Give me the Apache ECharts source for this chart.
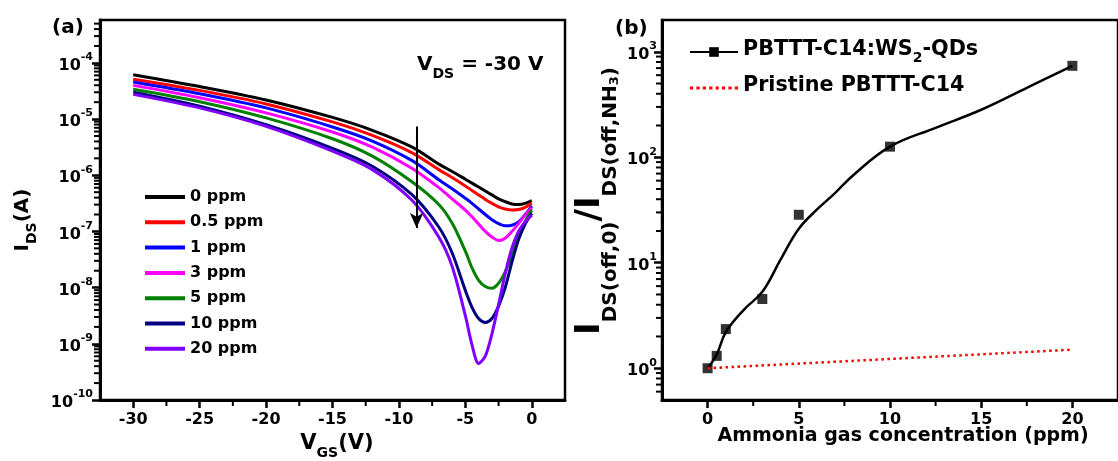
<!DOCTYPE html>
<html><head><meta charset="utf-8">
<script src="https://cdn.jsdelivr.net/npm/echarts@6/dist/echarts.min.js"></script>
<style>html,body{margin:0;padding:0;background:#fff}#c{width:1118px;height:461px}</style>
</head><body><div id="c"></div>
<script>
// ---------- Panel (a) data ----------
const vgs = [-30,-25,-20,-15,-12,-9,-7,-6,-5,-4.5,-4,-3.5,-3,-2.5,-2,-1.5,-1,-0.5,0];
const seriesNamesA = ['0 ppm','0.5 ppm','1 ppm','3 ppm','5 ppm','10 ppm','20 ppm'];
const colorsA = ['#000000','#ff0000','#0000ff','#ff00ff','#008000','#000080','#7f00ff'];
const ids0 = [6.17e-5,3.80e-5,2.19e-5,1.07e-5,6.31e-6,3.16e-6,1.58e-6,1.17e-6,8.51e-7,7.24e-7,6.17e-7,5.25e-7,4.47e-7,3.80e-7,3.39e-7,3.09e-7,3.02e-7,3.16e-7,3.55e-7];
const ids05 = [5.13e-5,3.24e-5,1.86e-5,8.91e-6,5.13e-6,2.51e-6,1.26e-6,9.12e-7,6.46e-7,5.37e-7,4.47e-7,3.72e-7,3.16e-7,2.75e-7,2.51e-7,2.40e-7,2.45e-7,2.69e-7,3.16e-7];
const ids1 = [4.57e-5,2.82e-5,1.58e-5,7.24e-6,4.07e-6,1.82e-6,8.32e-7,5.75e-7,3.89e-7,3.16e-7,2.51e-7,2.00e-7,1.62e-7,1.38e-7,1.26e-7,1.29e-7,1.48e-7,2.00e-7,2.82e-7];
const ids3 = [3.98e-5,2.40e-5,1.29e-5,5.89e-6,3.16e-6,1.32e-6,6.03e-7,3.80e-7,2.40e-7,1.82e-7,1.35e-7,1.00e-7,7.94e-8,6.92e-8,7.59e-8,1.00e-7,1.38e-7,1.95e-7,2.63e-7];
const ids5 = [3.39e-5,2.04e-5,1.05e-5,4.47e-6,2.19e-6,7.59e-7,3.02e-7,1.41e-7,4.47e-8,2.24e-8,1.35e-8,1.05e-8,9.77e-9,1.20e-8,1.91e-8,3.80e-8,8.32e-8,1.51e-7,2.40e-7];
const ids10 = [3.02e-5,1.70e-5,7.94e-6,3.02e-6,1.45e-6,4.47e-7,1.20e-7,4.17e-8,8.91e-9,4.47e-9,2.82e-9,2.40e-9,2.82e-9,4.68e-9,1.00e-8,2.82e-8,7.08e-8,1.35e-7,2.09e-7];
const ids20 = [2.75e-5,1.58e-5,7.41e-6,2.69e-6,1.26e-6,3.55e-7,7.94e-8,2.40e-8,3.16e-9,9.55e-10,4.47e-10,6.03e-10,1.51e-9,5.01e-9,1.78e-8,5.01e-8,1.00e-7,1.48e-7,1.95e-7];
const currentsA = [ids0, ids05, ids1, ids3, ids5, ids10, ids20];
const xTicksA = [-30,-25,-20,-15,-10,-5,0];
const xMinorA = [-27.5,-22.5,-17.5,-12.5,-7.5,-2.5];
const yDecadesA = [1e-10,1e-9,1e-8,1e-7,1e-6,1e-5,1e-4];
const arrowVgs = -8.67, arrowFrom = 7.35e-6, arrowTo = 1.15e-7;

// ---------- Panel (b) data ----------
const conc = [0, 0.5, 1, 3, 5, 10, 20];
const ratio = [1.0, 1.31, 2.35, 4.53, 28.5, 126, 736];
const fitConc = [0, 0.5, 1, 2, 3, 4, 5, 6, 7, 8, 10, 12.5, 15, 17.5, 20];
const fitRatio = [1.0, 1.35, 2.2, 3.6, 5.3, 10.7, 21, 32, 46, 68, 126, 190, 282, 455, 736];
const pristineConc = [0, 20];
const pristineRatio = [1.0, 1.5];
const xTicksB = [0, 5, 10, 15, 20];
const xMinorB = [2.5, 7.5, 12.5, 17.5];
const yDecadesB = [1, 10, 100, 1000];

const FONT = 'DejaVu Sans';
const GA = {left: 100, top: 20, width: 465, height: 380};
const GB = {left: 662, top: 20, width: 467, height: 380};
const xMinA = -32.5, xMaxA = 2.5, xMinB = -2.5, xMaxB = 22.5;
const yMinA = 1e-10, yMaxA = 5.8e-4, yMinB = 0.5, yMaxB = 2000;

function minorLog(decades, lo, hi) {
  const out = [];
  const all = [decades[0] / 10].concat(decades);
  all.forEach(d => { for (let k = 2; k <= 9; k++) { const v = k * d; if (v > lo * 1.0001 && v < hi * 0.9999) out.push(v); } });
  return out;
}
function powLabel(v) {
  const l = Math.log10(v), e = Math.round(l);
  if (Math.abs(l - e) > 1e-6) return '';
  return '{b|10}{p|' + e + '}';
}
const powRich = {
  b: {fontFamily: FONT, fontWeight: 'bold', fontSize: 16, lineHeight: 22, verticalAlign: 'bottom', color: '#000'},
  p: {fontFamily: FONT, fontWeight: 'bold', fontSize: 11, lineHeight: 11, verticalAlign: 'top', color: '#000'}
};
const tickLabel = {fontFamily: FONT, fontWeight: 'bold', fontSize: 16, color: '#000'};
const axisLineStyle = {color: '#000', width: 3};

function xMain(grid, min, max, ticks) {
  return {gridIndex: grid, type: 'value', position: 'bottom', min: min, max: max,
    axisLine: {show: true, onZero: false, lineStyle: axisLineStyle},
    axisTick: {show: true, customValues: ticks, length: 8, lineStyle: {color: '#000', width: 2.5}},
    axisLabel: Object.assign({customValues: ticks, margin: 12}, tickLabel),
    splitLine: {show: false}};
}
function yMain(grid, min, max, ticks, margin) {
  return {gridIndex: grid, type: 'log', logBase: 10, position: 'left', min: min, max: max,
    axisLine: {show: true, onZero: false, lineStyle: axisLineStyle},
    axisTick: {show: true, customValues: ticks, length: 8, lineStyle: {color: '#000', width: 2.5}},
    axisLabel: {customValues: ticks, margin: margin, formatter: powLabel, rich: powRich},
    splitLine: {show: false}};
}

// Minor ticks drawn by custom series, positioned through the axes (api.coord)
function minorTickSeries(axisIdx, points, dir) {
  return {type: 'custom', xAxisIndex: axisIdx, yAxisIndex: axisIdx, silent: true, clip: false, z: 5,
    data: points,
    renderItem: function (params, api) {
      const p = api.coord([api.value(0), api.value(1)]);
      const shape = dir === 'x' ? {x1: p[0], y1: p[1], x2: p[0], y2: p[1] + 6} : {x1: p[0] - 6, y1: p[1], x2: p[0], y2: p[1]};
      return {type: 'line', shape: shape, style: {stroke: '#000', lineWidth: 2}};
    }};
}

const seriesA = seriesNamesA.map((name, i) => {
  const s = {name: name, type: 'line', xAxisIndex: 0, yAxisIndex: 0, symbol: 'none', smooth: 0.3,
    lineStyle: {color: colorsA[i], width: 3}, itemStyle: {color: colorsA[i]},
    data: vgs.map((x, j) => [x, currentsA[i][j]])};
  if (i === 0) {
    s.markLine = {silent: true, symbol: ['none', 'arrow'], symbolSize: [10, 15], label: {show: false},
      lineStyle: {color: '#000', width: 2, type: 'solid'}, emphasis: {disabled: true},
      data: [[{coord: [arrowVgs, arrowFrom]}, {coord: [arrowVgs, arrowTo]}]]};
  }
  return s;
});

const seriesB = [
  {name: 'PBTTT-C14:WS2-QDs', type: 'line', xAxisIndex: 1, yAxisIndex: 1, symbol: 'rect', symbolSize: 10, showSymbol: false, smooth: 0.4,
    lineStyle: {color: '#000', width: 2.5}, itemStyle: {color: '#000'},
    data: fitConc.map((x, j) => [x, fitRatio[j]])},
  {name: 'Pristine PBTTT-C14', type: 'line', xAxisIndex: 1, yAxisIndex: 1, symbol: 'none',
    lineStyle: {color: '#ff0000', width: 2.5, type: [2.5, 3.5]}, itemStyle: {color: '#ff0000'},
    data: pristineConc.map((x, j) => [x, pristineRatio[j]])},
  {name: 'markers', type: 'scatter', xAxisIndex: 1, yAxisIndex: 1, symbol: 'rect', symbolSize: 10,
    itemStyle: {color: '#000'}, data: conc.map((x, j) => [x, ratio[j]])}
];

const seriesMinor = [
  minorTickSeries(0, xMinorA.map(v => [v, yMinA]), 'x'),
  minorTickSeries(0, minorLog(yDecadesA, yMinA, yMaxA).map(v => [xMinA, v]), 'y'),
  minorTickSeries(1, xMinorB.map(v => [v, yMinB]), 'x'),
  minorTickSeries(1, minorLog(yDecadesB, yMinB, yMaxB).map(v => [xMinB, v]), 'y')
];

const dotIcon = 'path://M0,0h3v3h-3zM6,0h3v3h-3zM12,0h3v3h-3zM18,0h3v3h-3zM24,0h3v3h-3zM30,0h3v3h-3zM36,0h3v3h-3zM42,0h3v3h-3z';

const texts = [
  {type: 'text', x: 52, y: 28, style: {text: '(a)', fontFamily: FONT, fontWeight: 'bold', fontSize: 20, fill: '#000', verticalAlign: 'middle'}},
  {type: 'text', x: 615, y: 29, style: {text: '(b)', fontFamily: FONT, fontWeight: 'bold', fontSize: 20, fill: '#000', verticalAlign: 'middle'}},
  {type: 'text', x: 417, y: 68, style: {text: '{m|V}{s|DS}{m| = -30 V}', verticalAlign: 'middle', rich: {
    m: {fontFamily: FONT, fontWeight: 'bold', fontSize: 20, lineHeight: 26, verticalAlign: 'top', fill: '#000'},
    s: {fontFamily: FONT, fontWeight: 'bold', fontSize: 14, lineHeight: 13, verticalAlign: 'bottom', fill: '#000'}}}},
  {type: 'text', x: 26, y: 220, rotation: Math.PI / 2, style: {text: '{m|I}{s|DS}{m|(A)}', align: 'center', verticalAlign: 'middle', rich: {
    m: {fontFamily: FONT, fontWeight: 'bold', fontSize: 20, lineHeight: 26, verticalAlign: 'top', fill: '#000'},
    s: {fontFamily: FONT, fontWeight: 'bold', fontSize: 14, lineHeight: 13, verticalAlign: 'bottom', fill: '#000'}}}},
  {type: 'text', x: 337, y: 447, style: {text: '{m|V}{s|GS}{m|(V)}', align: 'center', verticalAlign: 'middle', rich: {
    m: {fontFamily: FONT, fontWeight: 'bold', fontSize: 21, lineHeight: 27, verticalAlign: 'top', fill: '#000'},
    s: {fontFamily: FONT, fontWeight: 'bold', fontSize: 14, lineHeight: 13, verticalAlign: 'bottom', fill: '#000'}}}},
  {type: 'text', x: 903, y: 436, style: {text: 'Ammonia gas concentration (ppm)', align: 'center', verticalAlign: 'middle',
    fontFamily: FONT, fontWeight: 'bold', fontSize: 19, fill: '#000'}},
  {type: 'text', x: 597, y: 201, rotation: Math.PI / 2, style: {text: '{z|\u200b}{b|I}{s|DS(off,0)}{b|/I}{s|DS(off,NH}{t|3}{s|)}', align: 'center', verticalAlign: 'middle', rich: {
    z: {fontFamily: FONT, fontSize: 10, lineHeight: 48, verticalAlign: 'top', fill: '#000'},
    b: {fontFamily: FONT, fontWeight: 'bold', fontSize: 34, lineHeight: 34, verticalAlign: 'top', fill: '#000'},
    s: {fontFamily: FONT, fontWeight: 'bold', fontSize: 20, lineHeight: 20, verticalAlign: 'bottom', fill: '#000'},
    t: {fontFamily: FONT, fontWeight: 'bold', fontSize: 13, lineHeight: 7, verticalAlign: 'bottom', fill: '#000'}}}}
];

const option = {
  animation: false,
  backgroundColor: '#fff',
  textStyle: {fontFamily: FONT, fontWeight: 'bold', color: '#000'},
  grid: [
    Object.assign({show: true, borderColor: '#000', borderWidth: 2.5}, GA),
    Object.assign({show: true, borderColor: '#000', borderWidth: 2.5}, GB)
  ],
  xAxis: [xMain(0, xMinA, xMaxA, xTicksA), xMain(1, xMinB, xMaxB, xTicksB)],
  yAxis: [yMain(0, yMinA, yMaxA, yDecadesA, 7), yMain(1, yMinB, yMaxB, yDecadesB, 5)],
  legend: [
    {data: seriesNamesA, orient: 'vertical', left: 140, top: 183, itemWidth: 40, itemHeight: 4, itemGap: 7.3, icon: 'rect',
      textStyle: {fontFamily: FONT, fontWeight: 'bold', fontSize: 16, lineHeight: 18, color: '#000'}, selectedMode: false},
    {data: [{name: 'PBTTT-C14:WS2-QDs'}, {name: 'Pristine PBTTT-C14', icon: dotIcon}], orient: 'vertical', left: 684, top: 34,
      itemWidth: 48, itemHeight: 12, itemGap: 10, symbolKeepAspect: true, selectedMode: false,
      formatter: function (n) { return n.indexOf('WS2') >= 0 ? '{a|PBTTT-C14:WS}{s|2}{a|-QDs}' : '{a|' + n + '}'; },
      textStyle: {color: '#000', rich: {
        a: {fontFamily: FONT, fontWeight: 'bold', fontSize: 20.7, lineHeight: 26, verticalAlign: 'top', color: '#000'},
        s: {fontFamily: FONT, fontWeight: 'bold', fontSize: 14, lineHeight: 12, verticalAlign: 'bottom', color: '#000'}}}}
  ],
  graphic: texts,
  series: seriesA.concat(seriesB, seriesMinor)
};
const chart = echarts.init(document.getElementById('c'), null, {renderer: 'canvas'});
chart.setOption(option);
</script></body></html>
